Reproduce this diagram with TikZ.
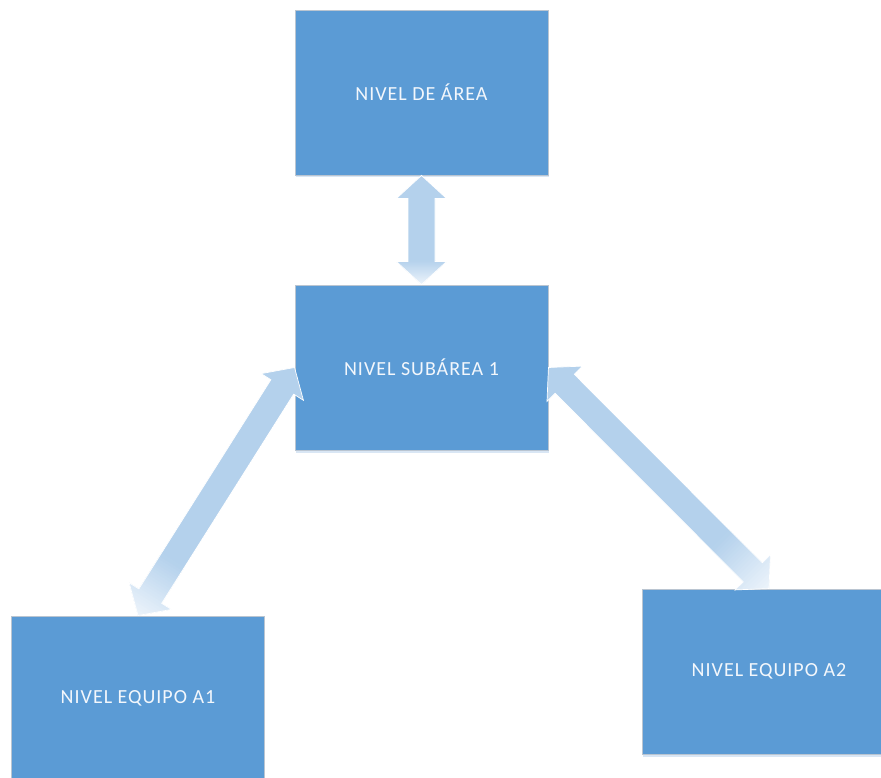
\documentclass[tikz,border=0pt]{standalone}
\usepackage{fontspec}
\setmainfont{Carlito}[LetterSpace=5]
\usetikzlibrary{calc,shadows}

\definecolor{boxblue}{HTML}{5B9BD5}
\definecolor{boxedge}{HTML}{BAC5D1}
\definecolor{arrowblue}{HTML}{B4D1EC}
\definecolor{fadetip}{HTML}{EDF4FB}
\definecolor{shadowblue}{HTML}{C9DCF0}
\definecolor{labelwhite}{HTML}{F3F7FC}

\tikzset{
  levelbox/.style={
    rectangle, fill=boxblue, draw=boxedge, line width=0.9pt,
    minimum width=253pt, minimum height=165pt, inner sep=0pt,
    text=labelwhite, font=\fontsize{20}{24}\selectfont,
    drop shadow={shadow xshift=0.8pt, shadow yshift=-2.5pt,
                 fill=shadowblue, opacity=0.7}
  },
  arrowbody/.style={fill=arrowblue},
  arrowrim/.style={draw=white, line width=0.7pt, line join=miter}
}

% outline of a two-headed block arrow from #1 to #2
\newcommand\blockarrowpath[2]{%
  (#1)
  -- ($(#1)!23pt!(#2)!25pt!90:(#2)$)
  -- ($(#1)!23pt!(#2)!13.5pt!90:(#2)$)
  -- ($(#2)!23pt!(#1)!13.5pt!90:(#2)$)
  -- ($(#2)!23pt!(#1)!25pt!90:(#2)$)
  -- (#2)
  -- ($(#2)!23pt!(#1)!25pt!-90:(#2)$)
  -- ($(#2)!23pt!(#1)!13.5pt!-90:(#2)$)
  -- ($(#1)!23pt!(#2)!13.5pt!-90:(#2)$)
  -- ($(#1)!23pt!(#2)!25pt!-90:(#2)$)
  -- cycle}

% block arrow that pales out towards its first end
\newcommand\fadedblockarrow[2]{%
  \begin{scope}
    \clip \blockarrowpath{#1}{#2};
    \fill[arrowbody] \blockarrowpath{#1}{#2};
    \foreach \i in {0,...,23}{%
      \pgfmathsetmacro\fa{0.22*\i/24}%
      \pgfmathsetmacro\fb{0.22*(\i+1)/24+0.004}%
      \pgfmathsetmacro\pc{100*(\i+0.5)/24}%
      \fill[arrowblue!\pc!fadetip]
        ($(#1)!\fa!(#2)!40pt!90:(#2)$) -- ($(#1)!\fb!(#2)!40pt!90:(#2)$)
        -- ($(#1)!\fb!(#2)!40pt!-90:(#2)$) -- ($(#1)!\fa!(#2)!40pt!-90:(#2)$)
        -- cycle;
    }
  \end{scope}
  \draw[arrowrim] \blockarrowpath{#1}{#2};
}

\begin{document}
\begin{tikzpicture}[x=1pt,y=-1pt]
  \useasboundingbox (0,0) rectangle (881,778);
  \fill[white] (0,0) rectangle (881,778);

  % levels
  \node[levelbox] (area) at (421.5,92.5)  {NIVEL DE ÁREA};
  \node[levelbox] (sub)  at (421.5,367.5) {NIVEL SUBÁREA 1};
  \node[levelbox] (eqa1) at (138,698.5)   {NIVEL EQUIPO A1};
  \node[levelbox] (eqa2) at (769,671.5)   {NIVEL EQUIPO A2};

  % two-way links between levels
  \fadedblockarrow{sub.north}{area.south}
  \fadedblockarrow{eqa1.north}{sub.west}
  \fadedblockarrow{eqa2.north}{sub.east}
\end{tikzpicture}
\end{document}
